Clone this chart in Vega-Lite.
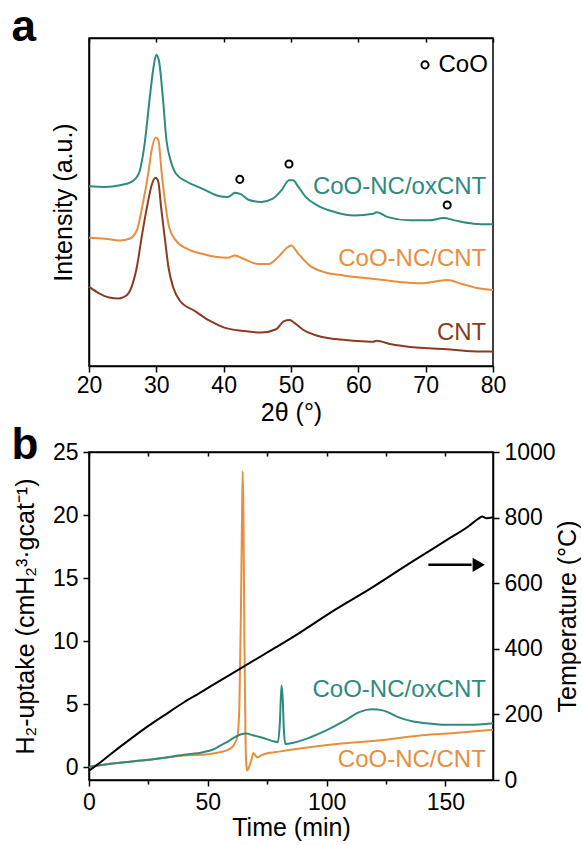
{
  "$schema": "https://vega.github.io/schema/vega-lite/v6.json",
  "background": "white",
  "padding": {"left": 10, "top": 5, "right": 0, "bottom": 0},
  "spacing": 86,
  "bounds": "flush",
  "datasets": {
    "xrd": [
      {"sample": "CoO-NC/oxCNT", "two_theta": 20, "intensity": 54.8},
      {"sample": "CoO-NC/oxCNT", "two_theta": 22.4, "intensity": 54.6},
      {"sample": "CoO-NC/oxCNT", "two_theta": 24.6, "intensity": 55.1},
      {"sample": "CoO-NC/oxCNT", "two_theta": 26.3, "intensity": 56.1},
      {"sample": "CoO-NC/oxCNT", "two_theta": 27.4, "intensity": 58.7},
      {"sample": "CoO-NC/oxCNT", "two_theta": 28.2, "intensity": 66.8},
      {"sample": "CoO-NC/oxCNT", "two_theta": 29.1, "intensity": 83.2},
      {"sample": "CoO-NC/oxCNT", "two_theta": 29.6, "intensity": 91.3},
      {"sample": "CoO-NC/oxCNT", "two_theta": 30.0, "intensity": 94.9},
      {"sample": "CoO-NC/oxCNT", "two_theta": 30.4, "intensity": 92.9},
      {"sample": "CoO-NC/oxCNT", "two_theta": 31.0, "intensity": 81.1},
      {"sample": "CoO-NC/oxCNT", "two_theta": 31.5, "intensity": 68.9},
      {"sample": "CoO-NC/oxCNT", "two_theta": 32.1, "intensity": 62.8},
      {"sample": "CoO-NC/oxCNT", "two_theta": 32.9, "intensity": 58.7},
      {"sample": "CoO-NC/oxCNT", "two_theta": 34.6, "intensity": 56.1},
      {"sample": "CoO-NC/oxCNT", "two_theta": 36.8, "intensity": 54.1},
      {"sample": "CoO-NC/oxCNT", "two_theta": 39.0, "intensity": 52.0},
      {"sample": "CoO-NC/oxCNT", "two_theta": 40.6, "intensity": 51.5},
      {"sample": "CoO-NC/oxCNT", "two_theta": 41.7, "intensity": 52.8},
      {"sample": "CoO-NC/oxCNT", "two_theta": 42.6, "intensity": 52.3},
      {"sample": "CoO-NC/oxCNT", "two_theta": 43.7, "intensity": 50.7},
      {"sample": "CoO-NC/oxCNT", "two_theta": 45.6, "intensity": 50.0},
      {"sample": "CoO-NC/oxCNT", "two_theta": 47.3, "intensity": 51.0},
      {"sample": "CoO-NC/oxCNT", "two_theta": 48.6, "intensity": 53.6},
      {"sample": "CoO-NC/oxCNT", "two_theta": 49.7, "intensity": 56.6},
      {"sample": "CoO-NC/oxCNT", "two_theta": 50.3, "intensity": 56.6},
      {"sample": "CoO-NC/oxCNT", "two_theta": 51.1, "intensity": 54.6},
      {"sample": "CoO-NC/oxCNT", "two_theta": 52.2, "intensity": 51.5},
      {"sample": "CoO-NC/oxCNT", "two_theta": 53.9, "intensity": 49.0},
      {"sample": "CoO-NC/oxCNT", "two_theta": 56.6, "intensity": 46.9},
      {"sample": "CoO-NC/oxCNT", "two_theta": 59.4, "intensity": 45.9},
      {"sample": "CoO-NC/oxCNT", "two_theta": 62.2, "intensity": 46.4},
      {"sample": "CoO-NC/oxCNT", "two_theta": 62.7, "intensity": 46.9},
      {"sample": "CoO-NC/oxCNT", "two_theta": 64.4, "intensity": 45.4},
      {"sample": "CoO-NC/oxCNT", "two_theta": 67.7, "intensity": 44.4},
      {"sample": "CoO-NC/oxCNT", "two_theta": 70.5, "intensity": 44.4},
      {"sample": "CoO-NC/oxCNT", "two_theta": 72.7, "intensity": 45.1},
      {"sample": "CoO-NC/oxCNT", "two_theta": 74.3, "intensity": 44.4},
      {"sample": "CoO-NC/oxCNT", "two_theta": 77.1, "intensity": 43.4},
      {"sample": "CoO-NC/oxCNT", "two_theta": 80, "intensity": 43.2},
      {"sample": "CoO-NC/CNT", "two_theta": 20, "intensity": 39.1},
      {"sample": "CoO-NC/CNT", "two_theta": 22.4, "intensity": 38.8},
      {"sample": "CoO-NC/CNT", "two_theta": 24.6, "intensity": 38.3},
      {"sample": "CoO-NC/CNT", "two_theta": 26.0, "intensity": 38.8},
      {"sample": "CoO-NC/CNT", "two_theta": 27.1, "intensity": 41.3},
      {"sample": "CoO-NC/CNT", "two_theta": 27.9, "intensity": 48.5},
      {"sample": "CoO-NC/CNT", "two_theta": 28.8, "intensity": 58.7},
      {"sample": "CoO-NC/CNT", "two_theta": 29.3, "intensity": 65.8},
      {"sample": "CoO-NC/CNT", "two_theta": 29.9, "intensity": 69.7},
      {"sample": "CoO-NC/CNT", "two_theta": 30.3, "intensity": 68.9},
      {"sample": "CoO-NC/CNT", "two_theta": 30.8, "intensity": 58.7},
      {"sample": "CoO-NC/CNT", "two_theta": 31.4, "intensity": 48.5},
      {"sample": "CoO-NC/CNT", "two_theta": 31.9, "intensity": 42.3},
      {"sample": "CoO-NC/CNT", "two_theta": 32.9, "intensity": 38.3},
      {"sample": "CoO-NC/CNT", "two_theta": 34.6, "intensity": 35.7},
      {"sample": "CoO-NC/CNT", "two_theta": 36.8, "intensity": 34.2},
      {"sample": "CoO-NC/CNT", "two_theta": 39.0, "intensity": 33.2},
      {"sample": "CoO-NC/CNT", "two_theta": 40.6, "intensity": 33.0},
      {"sample": "CoO-NC/CNT", "two_theta": 41.7, "intensity": 33.7},
      {"sample": "CoO-NC/CNT", "two_theta": 42.9, "intensity": 32.7},
      {"sample": "CoO-NC/CNT", "two_theta": 45.1, "intensity": 31.1},
      {"sample": "CoO-NC/CNT", "two_theta": 46.7, "intensity": 31.1},
      {"sample": "CoO-NC/CNT", "two_theta": 48.1, "intensity": 33.2},
      {"sample": "CoO-NC/CNT", "two_theta": 49.5, "intensity": 36.2},
      {"sample": "CoO-NC/CNT", "two_theta": 50.0, "intensity": 36.7},
      {"sample": "CoO-NC/CNT", "two_theta": 51.1, "intensity": 34.2},
      {"sample": "CoO-NC/CNT", "two_theta": 52.8, "intensity": 30.6},
      {"sample": "CoO-NC/CNT", "two_theta": 55.0, "intensity": 28.6},
      {"sample": "CoO-NC/CNT", "two_theta": 57.8, "intensity": 27.6},
      {"sample": "CoO-NC/CNT", "two_theta": 61.1, "intensity": 26.8},
      {"sample": "CoO-NC/CNT", "two_theta": 63.8, "intensity": 26.2},
      {"sample": "CoO-NC/CNT", "two_theta": 66.6, "intensity": 25.5},
      {"sample": "CoO-NC/CNT", "two_theta": 69.3, "intensity": 25.2},
      {"sample": "CoO-NC/CNT", "two_theta": 72.1, "intensity": 26.0},
      {"sample": "CoO-NC/CNT", "two_theta": 73.2, "intensity": 26.2},
      {"sample": "CoO-NC/CNT", "two_theta": 75.4, "intensity": 25.0},
      {"sample": "CoO-NC/CNT", "two_theta": 77.6, "intensity": 23.8},
      {"sample": "CoO-NC/CNT", "two_theta": 80, "intensity": 23.2},
      {"sample": "CNT", "two_theta": 20, "intensity": 24.2},
      {"sample": "CNT", "two_theta": 21.3, "intensity": 22.4},
      {"sample": "CNT", "two_theta": 23.0, "intensity": 20.9},
      {"sample": "CNT", "two_theta": 24.4, "intensity": 20.6},
      {"sample": "CNT", "two_theta": 25.5, "intensity": 21.4},
      {"sample": "CNT", "two_theta": 26.3, "intensity": 24.0},
      {"sample": "CNT", "two_theta": 27.1, "intensity": 30.1},
      {"sample": "CNT", "two_theta": 27.9, "intensity": 40.3},
      {"sample": "CNT", "two_theta": 28.8, "intensity": 50.5},
      {"sample": "CNT", "two_theta": 29.3, "intensity": 55.1},
      {"sample": "CNT", "two_theta": 29.9, "intensity": 57.4},
      {"sample": "CNT", "two_theta": 30.3, "intensity": 56.1},
      {"sample": "CNT", "two_theta": 30.7, "intensity": 48.5},
      {"sample": "CNT", "two_theta": 31.3, "intensity": 38.3},
      {"sample": "CNT", "two_theta": 31.8, "intensity": 30.1},
      {"sample": "CNT", "two_theta": 32.5, "intensity": 24.0},
      {"sample": "CNT", "two_theta": 33.5, "intensity": 19.9},
      {"sample": "CNT", "two_theta": 35.7, "intensity": 16.8},
      {"sample": "CNT", "two_theta": 37.9, "intensity": 13.8},
      {"sample": "CNT", "two_theta": 40.1, "intensity": 11.7},
      {"sample": "CNT", "two_theta": 42.9, "intensity": 10.7},
      {"sample": "CNT", "two_theta": 45.6, "intensity": 10.2},
      {"sample": "CNT", "two_theta": 47.8, "intensity": 11.2},
      {"sample": "CNT", "two_theta": 48.9, "intensity": 13.6},
      {"sample": "CNT", "two_theta": 49.8, "intensity": 14.0},
      {"sample": "CNT", "two_theta": 50.6, "intensity": 13.0},
      {"sample": "CNT", "two_theta": 51.7, "intensity": 11.2},
      {"sample": "CNT", "two_theta": 53.9, "intensity": 9.2},
      {"sample": "CNT", "two_theta": 56.7, "intensity": 8.2},
      {"sample": "CNT", "two_theta": 59.4, "intensity": 7.7},
      {"sample": "CNT", "two_theta": 62.2, "intensity": 7.4},
      {"sample": "CNT", "two_theta": 62.7, "intensity": 7.7},
      {"sample": "CNT", "two_theta": 64.9, "intensity": 6.6},
      {"sample": "CNT", "two_theta": 67.7, "intensity": 5.8},
      {"sample": "CNT", "two_theta": 70.5, "intensity": 5.4},
      {"sample": "CNT", "two_theta": 73.2, "intensity": 5.1},
      {"sample": "CNT", "two_theta": 76.0, "intensity": 4.6},
      {"sample": "CNT", "two_theta": 80, "intensity": 4.4}
    ],
    "xrdLabels": [
      {"sample": "CoO-NC/oxCNT", "two_theta": 79.0, "intensity": 54.6},
      {"sample": "CoO-NC/CNT", "two_theta": 79.0, "intensity": 32.7},
      {"sample": "CNT", "two_theta": 79.0, "intensity": 10.2}
    ],
    "cooMarks": [
      {"two_theta": 42.4, "intensity": 56.9},
      {"two_theta": 49.7, "intensity": 61.6},
      {"two_theta": 73.2, "intensity": 49.1},
      {"two_theta": 69.9, "intensity": 91.8}
    ],
    "cooLegend": [
      {"label": "CoO", "two_theta": 71.9, "intensity": 91.8}
    ],
    "tpr": [
      {"sample": "CoO-NC/CNT", "time": 0, "uptake": 0.0},
      {"sample": "CoO-NC/CNT", "time": 10, "uptake": 0.3},
      {"sample": "CoO-NC/CNT", "time": 25, "uptake": 0.6},
      {"sample": "CoO-NC/CNT", "time": 40, "uptake": 0.95},
      {"sample": "CoO-NC/CNT", "time": 50, "uptake": 1.05},
      {"sample": "CoO-NC/CNT", "time": 55, "uptake": 1.2},
      {"sample": "CoO-NC/CNT", "time": 59, "uptake": 1.45},
      {"sample": "CoO-NC/CNT", "time": 61, "uptake": 1.8},
      {"sample": "CoO-NC/CNT", "time": 62.5, "uptake": 2.5},
      {"sample": "CoO-NC/CNT", "time": 63.3, "uptake": 5},
      {"sample": "CoO-NC/CNT", "time": 63.9, "uptake": 12},
      {"sample": "CoO-NC/CNT", "time": 64.4, "uptake": 20},
      {"sample": "CoO-NC/CNT", "time": 64.7, "uptake": 23.5},
      {"sample": "CoO-NC/CNT", "time": 65.0, "uptake": 20},
      {"sample": "CoO-NC/CNT", "time": 65.4, "uptake": 10},
      {"sample": "CoO-NC/CNT", "time": 65.8, "uptake": 3},
      {"sample": "CoO-NC/CNT", "time": 66.2, "uptake": 0.2},
      {"sample": "CoO-NC/CNT", "time": 66.6, "uptake": -0.25},
      {"sample": "CoO-NC/CNT", "time": 67.5, "uptake": 0.1},
      {"sample": "CoO-NC/CNT", "time": 68.5, "uptake": 0.7},
      {"sample": "CoO-NC/CNT", "time": 69.2, "uptake": 1.15},
      {"sample": "CoO-NC/CNT", "time": 70.0, "uptake": 0.95},
      {"sample": "CoO-NC/CNT", "time": 70.8, "uptake": 0.8},
      {"sample": "CoO-NC/CNT", "time": 73, "uptake": 1.0},
      {"sample": "CoO-NC/CNT", "time": 80, "uptake": 1.25},
      {"sample": "CoO-NC/CNT", "time": 95, "uptake": 1.65},
      {"sample": "CoO-NC/CNT", "time": 110, "uptake": 1.95},
      {"sample": "CoO-NC/CNT", "time": 125, "uptake": 2.2},
      {"sample": "CoO-NC/CNT", "time": 140, "uptake": 2.55},
      {"sample": "CoO-NC/CNT", "time": 155, "uptake": 2.75},
      {"sample": "CoO-NC/CNT", "time": 170, "uptake": 2.99},
      {"sample": "CoO-NC/oxCNT", "time": 0, "uptake": 0.05},
      {"sample": "CoO-NC/oxCNT", "time": 10, "uptake": 0.3},
      {"sample": "CoO-NC/oxCNT", "time": 25, "uptake": 0.6},
      {"sample": "CoO-NC/oxCNT", "time": 40, "uptake": 1.0},
      {"sample": "CoO-NC/oxCNT", "time": 48, "uptake": 1.2},
      {"sample": "CoO-NC/oxCNT", "time": 52, "uptake": 1.4},
      {"sample": "CoO-NC/oxCNT", "time": 55, "uptake": 1.7},
      {"sample": "CoO-NC/oxCNT", "time": 58, "uptake": 2.0},
      {"sample": "CoO-NC/oxCNT", "time": 61, "uptake": 2.35},
      {"sample": "CoO-NC/oxCNT", "time": 64, "uptake": 2.62},
      {"sample": "CoO-NC/oxCNT", "time": 66, "uptake": 2.68},
      {"sample": "CoO-NC/oxCNT", "time": 69, "uptake": 2.55},
      {"sample": "CoO-NC/oxCNT", "time": 73, "uptake": 2.35},
      {"sample": "CoO-NC/oxCNT", "time": 77, "uptake": 2.1},
      {"sample": "CoO-NC/oxCNT", "time": 79.5, "uptake": 2.0},
      {"sample": "CoO-NC/oxCNT", "time": 80.3, "uptake": 3.5},
      {"sample": "CoO-NC/oxCNT", "time": 81.0, "uptake": 6.5},
      {"sample": "CoO-NC/oxCNT", "time": 81.5, "uptake": 5.5},
      {"sample": "CoO-NC/oxCNT", "time": 82.0, "uptake": 3.0},
      {"sample": "CoO-NC/oxCNT", "time": 82.6, "uptake": 1.85},
      {"sample": "CoO-NC/oxCNT", "time": 86, "uptake": 1.95},
      {"sample": "CoO-NC/oxCNT", "time": 92, "uptake": 2.3},
      {"sample": "CoO-NC/oxCNT", "time": 100, "uptake": 2.95},
      {"sample": "CoO-NC/oxCNT", "time": 108, "uptake": 3.75},
      {"sample": "CoO-NC/oxCNT", "time": 114, "uptake": 4.4},
      {"sample": "CoO-NC/oxCNT", "time": 119, "uptake": 4.6},
      {"sample": "CoO-NC/oxCNT", "time": 124, "uptake": 4.5},
      {"sample": "CoO-NC/oxCNT", "time": 130, "uptake": 3.98},
      {"sample": "CoO-NC/oxCNT", "time": 136, "uptake": 3.65},
      {"sample": "CoO-NC/oxCNT", "time": 142, "uptake": 3.5},
      {"sample": "CoO-NC/oxCNT", "time": 150, "uptake": 3.38},
      {"sample": "CoO-NC/oxCNT", "time": 160, "uptake": 3.38},
      {"sample": "CoO-NC/oxCNT", "time": 170, "uptake": 3.5}
    ],
    "tprLabels": [
      {"sample": "CoO-NC/oxCNT", "time": 167, "uptake": 6.1},
      {"sample": "CoO-NC/CNT", "time": 167, "uptake": 0.55}
    ],
    "temperature": [
      {"time": 0, "temp": 28},
      {"time": 5, "temp": 55},
      {"time": 10, "temp": 84},
      {"time": 17.8, "temp": 127},
      {"time": 25, "temp": 165},
      {"time": 31.8, "temp": 198},
      {"time": 40, "temp": 237},
      {"time": 45.8, "temp": 262},
      {"time": 55, "temp": 302},
      {"time": 64.7, "temp": 344},
      {"time": 72.5, "temp": 378},
      {"time": 87.8, "temp": 445},
      {"time": 101.8, "temp": 511},
      {"time": 119.4, "temp": 588},
      {"time": 135, "temp": 661},
      {"time": 150.6, "temp": 732},
      {"time": 160, "temp": 775},
      {"time": 163.5, "temp": 795},
      {"time": 165.5, "temp": 803},
      {"time": 167.2, "temp": 798},
      {"time": 170, "temp": 801}
    ],
    "arrow": [
      {"t_start": 142.8, "t_end": 161, "temp": 656}
    ],
    "arrowHead": [
      {"time": 164, "temp": 656}
    ]
  },
  "vconcat": [
    {
      "width": 404,
      "height": 328,
      "title": {"text": "a", "dx": -77.5, "dy": 17},
      "layer": [
        {
          "layer": [
            {
              "data": {"name": "xrd"},
              "mark": {"type": "line", "strokeWidth": 2, "interpolate": "monotone"},
              "encoding": {
                "x": {
                  "field": "two_theta", "type": "quantitative",
                  "scale": {"domain": [20, 80], "nice": false},
                  "axis": {
                    "orient": "bottom",
                    "title": "2θ (°)",
                    "values": [20, 25, 30, 35, 40, 45, 50, 55, 60, 65, 70, 75, 80],
                    "labelExpr": "datum.value % 10 === 0 ? datum.label : ''",
                    "tickSize": {"condition": {"test": "datum.value % 10 === 0", "value": 6}, "value": 4},
                    "labelPadding": 2.5,
                    "titlePadding": 3
                  }
                },
                "y": {
                  "field": "intensity", "type": "quantitative",
                  "scale": {"domain": [0, 100], "nice": false},
                  "axis": {"title": "Intensity (a.u.)", "labels": false, "ticks": false, "titlePadding": 13}
                },
                "color": {
                  "field": "sample", "type": "nominal",
                  "scale": {"domain": ["CoO-NC/oxCNT", "CoO-NC/CNT", "CNT"], "range": ["#2e8b7d", "#e78f3f", "#8b3b20"]},
                  "legend": null
                }
              }
            },
            {
              "data": {"name": "xrdLabels"},
              "mark": {"type": "text", "align": "right", "baseline": "middle", "fontSize": 24, "font": "Liberation Sans"},
              "encoding": {
                "x": {"field": "two_theta", "type": "quantitative"},
                "y": {"field": "intensity", "type": "quantitative"},
                "text": {"field": "sample"},
                "color": {"field": "sample", "type": "nominal"}
              }
            }
          ]
        },
        {
          "layer": [
            {
              "data": {"name": "cooMarks"},
              "mark": {"type": "point", "shape": "circle", "filled": false, "stroke": "black", "strokeWidth": 2, "size": 50, "opacity": 1},
              "encoding": {
                "x": {
                  "field": "two_theta", "type": "quantitative",
                  "axis": {
                    "orient": "top", "title": null, "labels": false,
                    "values": [20, 25, 30, 35, 40, 45, 50, 55, 60, 65, 70, 75, 80],
                    "tickSize": -4
                  }
                },
                "y": {"field": "intensity", "type": "quantitative", "axis": null}
              }
            },
            {
              "data": {"name": "cooLegend"},
              "mark": {"type": "text", "align": "left", "baseline": "middle", "fontSize": 24, "font": "Liberation Sans", "color": "black"},
              "encoding": {
                "x": {"field": "two_theta", "type": "quantitative"},
                "y": {"field": "intensity", "type": "quantitative"},
                "text": {"field": "label"}
              }
            }
          ]
        }
      ],
      "resolve": {"axis": {"x": "independent", "y": "independent"}}
    },
    {
      "width": 404,
      "height": 328,
      "title": {"text": "b", "dx": -77.5, "dy": 31},
      "layer": [
        {
          "layer": [
            {
              "data": {"name": "tpr"},
              "mark": {"type": "line", "strokeWidth": 2, "interpolate": "monotone"},
              "encoding": {
                "x": {
                  "field": "time", "type": "quantitative",
                  "scale": {"domain": [0, 170], "nice": false},
                  "axis": {
                    "orient": "bottom",
                    "title": "Time (min)",
                    "values": [0, 25, 50, 75, 100, 125, 150],
                    "labelExpr": "datum.value % 50 === 0 ? datum.label : ''",
                    "tickSize": {"condition": {"test": "datum.value % 50 === 0", "value": 6}, "value": 4},
                    "labelPadding": 5,
                    "titlePadding": 1
                  }
                },
                "y": {
                  "field": "uptake", "type": "quantitative",
                  "scale": {"domain": [-1, 25], "nice": false},
                  "axis": {
                    "orient": "left",
                    "title": "H₂-uptake (cmH₂³·gcat⁻¹)",
                    "values": [0, 2.5, 5, 7.5, 10, 12.5, 15, 17.5, 20, 22.5, 25],
                    "labelExpr": "datum.value % 5 === 0 ? datum.label : ''",
                    "tickSize": {"condition": {"test": "datum.value % 5 === 0", "value": 6}, "value": 4},
                    "labelPadding": 5,
                    "titlePadding": 13.5
                  }
                },
                "color": {
                  "field": "sample", "type": "nominal",
                  "scale": {"domain": ["CoO-NC/oxCNT", "CoO-NC/CNT", "CNT"], "range": ["#2e8b7d", "#e78f3f", "#8b3b20"]},
                  "legend": null
                }
              }
            },
            {
              "data": {"name": "tprLabels"},
              "mark": {"type": "text", "align": "right", "baseline": "middle", "fontSize": 24, "font": "Liberation Sans"},
              "encoding": {
                "x": {"field": "time", "type": "quantitative"},
                "y": {"field": "uptake", "type": "quantitative"},
                "text": {"field": "sample"},
                "color": {"field": "sample", "type": "nominal"}
              }
            }
          ]
        },
        {
          "layer": [
            {
              "data": {"name": "temperature"},
              "mark": {"type": "line", "strokeWidth": 2, "color": "black", "interpolate": "monotone"},
              "encoding": {
                "x": {
                  "field": "time", "type": "quantitative",
                  "axis": {
                    "orient": "top", "title": null, "labels": false,
                    "values": [0, 25, 50, 75, 100, 125, 150],
                    "tickSize": -4
                  }
                },
                "y": {
                  "field": "temp", "type": "quantitative",
                  "scale": {"domain": [0, 1000], "nice": false},
                  "axis": {
                    "orient": "right",
                    "title": "Temperature (°C)",
                    "format": "d",
                    "values": [0, 100, 200, 300, 400, 500, 600, 700, 800, 900, 1000],
                    "labelExpr": "datum.value % 200 === 0 ? datum.label : ''",
                    "tickSize": {"condition": {"test": "datum.value % 200 === 0", "value": 6}, "value": 4},
                    "labelPadding": 5,
                    "titleAngle": 270,
                    "titleBaseline": "top",
                    "titlePadding": 0
                  }
                }
              }
            },
            {
              "data": {"name": "arrow"},
              "mark": {"type": "rule", "strokeWidth": 2.5, "color": "black"},
              "encoding": {
                "x": {"field": "t_start", "type": "quantitative"},
                "x2": {"field": "t_end"},
                "y": {"field": "temp", "type": "quantitative"}
              }
            },
            {
              "data": {"name": "arrowHead"},
              "mark": {"type": "point", "shape": "triangle-right", "filled": true, "color": "black", "size": 200, "opacity": 1},
              "encoding": {
                "x": {"field": "time", "type": "quantitative"},
                "y": {"field": "temp", "type": "quantitative"}
              }
            }
          ]
        }
      ],
      "resolve": {"scale": {"y": "independent"}, "axis": {"x": "independent", "y": "independent"}}
    }
  ],
  "config": {
    "font": "Liberation Sans",
    "view": {"stroke": "black", "strokeWidth": 1.5},
    "axis": {
      "domainColor": "black", "domainWidth": 1.5,
      "tickColor": "black", "tickWidth": 1.5,
      "labelColor": "black", "titleColor": "black",
      "labelFont": "Liberation Sans", "titleFont": "Liberation Sans",
      "labelFontSize": 23, "titleFontSize": 25, "titleFontWeight": "normal",
      "grid": false, "labelOverlap": false, "labelFlush": false
    },
    "title": {
      "font": "Liberation Sans", "fontSize": 44, "fontWeight": "bold",
      "anchor": "start", "frame": "group", "baseline": "alphabetic",
      "offset": 0, "color": "black"
    }
  }
}
